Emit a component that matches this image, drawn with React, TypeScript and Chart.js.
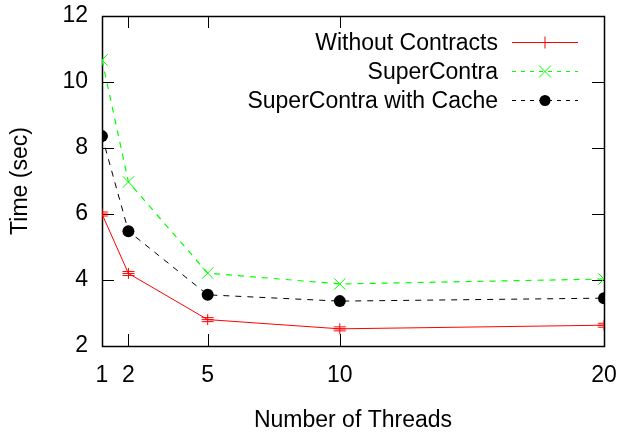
import { useEffect, useRef } from 'react';
import { Chart, registerables } from 'chart.js';

Chart.register(...registerables);

const threads = [1, 2, 5, 10, 20];
const xTickValues = [1, 2, 5, 10, 20];
const yTickValues = [2, 4, 6, 8, 10, 12];
const withoutContracts = [6.0, 4.2, 2.8, 2.52, 2.63];
const superContra = [10.67, 6.97, 4.21, 3.88, 4.03];
const superContraCache = [8.36, 5.48, 3.55, 3.36, 3.45];
const seriesLabels = ['Without Contracts', 'SuperContra', 'SuperContra with Cache'];
const xTitle = 'Number of Threads';
const yTitle = 'Time (sec)';

const FONT = "'Liberation Sans', Arial, Helvetica, sans-serif";
const FS = 23;

function makeRedMarker(): HTMLCanvasElement {
  const c = document.createElement('canvas');
  c.width = 15;
  c.height = 15;
  const g = c.getContext('2d')!;
  g.strokeStyle = '#ff0000';
  g.lineWidth = 1;
  g.beginPath();
  for (const dy of [-2, 0, 2]) {
    g.moveTo(1.5, 7.5 + dy);
    g.lineTo(13.5, 7.5 + dy);
  }
  g.moveTo(7.5, 2);
  g.lineTo(7.5, 13);
  g.stroke();
  return c;
}

export default function App() {
  const ref = useRef<HTMLCanvasElement | null>(null);

  useEffect(() => {
    if (!ref.current) return;
    const redMarker = makeRedMarker();

    const framePlugin = {
      id: 'frame',
      beforeDatasetsDraw(chart: any) {
        const { ctx, chartArea } = chart;
        const { left, right, top, bottom } = chartArea;
        const xs = chart.scales.x;
        const ys = chart.scales.y;
        const tl = 12;
        ctx.save();
        ctx.strokeStyle = '#000';
        ctx.lineWidth = 1;
        ctx.beginPath();
        for (const v of xTickValues) {
          const px = Math.round(xs.getPixelForValue(v)) + 0.5;
          ctx.moveTo(px, bottom);
          ctx.lineTo(px, bottom - tl);
          ctx.moveTo(px, top);
          ctx.lineTo(px, top + tl);
        }
        for (const v of yTickValues) {
          const py = Math.round(ys.getPixelForValue(v)) + 0.5;
          ctx.moveTo(left, py);
          ctx.lineTo(left + tl, py);
          ctx.moveTo(right, py);
          ctx.lineTo(right - tl, py);
        }
        ctx.stroke();
        ctx.lineWidth = 1.5;
        ctx.strokeRect(Math.round(left) + 0.5, Math.round(top) + 0.5, Math.round(right - left), Math.round(bottom - top));
        ctx.restore();
      },
    };

    const legendPlugin = {
      id: 'gpLegend',
      afterDraw(chart: any) {
        const { ctx } = chart;
        const rows = [42.5, 71.5, 100.5];
        const textRight = 498;
        const lineL = 512;
        const lineR = 578;
        const mid = (lineL + lineR) / 2;
        ctx.save();
        ctx.font = `${FS}px ${FONT}`;
        ctx.textAlign = 'right';
        ctx.textBaseline = 'middle';
        chart.data.datasets.forEach((ds: any, i: number) => {
          const y = rows[i];
          ctx.fillStyle = '#000';
          ctx.fillText(ds.label, textRight, y + 1);
          ctx.strokeStyle = ds.borderColor;
          ctx.lineWidth = 1;
          ctx.setLineDash(ds.borderDash ? [4, 5] : []);
          ctx.beginPath();
          ctx.moveTo(lineL, y);
          ctx.lineTo(lineR, y);
          ctx.stroke();
          ctx.setLineDash([]);
          if (i === 0) {
            ctx.beginPath();
            ctx.moveTo(mid, y - 6);
            ctx.lineTo(mid, y + 6);
            ctx.stroke();
          } else if (i === 1) {
            ctx.beginPath();
            ctx.moveTo(mid - 6, y - 6);
            ctx.lineTo(mid + 6, y + 6);
            ctx.moveTo(mid - 6, y + 6);
            ctx.lineTo(mid + 6, y - 6);
            ctx.stroke();
          } else {
            ctx.fillStyle = '#000';
            ctx.beginPath();
            ctx.arc(mid, y, 5.5, 0, Math.PI * 2);
            ctx.fill();
          }
        });
        ctx.restore();
      },
    };

    const toXY = (vals: number[]) => threads.map((t, i) => ({ x: t, y: vals[i] }));

    const chart = new Chart(ref.current, {
      type: 'line',
      data: {
        datasets: [
          {
            label: seriesLabels[0],
            data: toXY(withoutContracts),
            borderColor: '#ff0000',
            backgroundColor: '#ff0000',
            borderWidth: 1,
            pointStyle: redMarker as any,
            pointRadius: 7,
            tension: 0,
          },
          {
            label: seriesLabels[1],
            data: toXY(superContra),
            borderColor: '#00ff00',
            backgroundColor: '#00ff00',
            borderWidth: 1.2,
            borderDash: [6, 6],
            pointStyle: 'crossRot',
            pointRadius: 8,
            pointBorderWidth: 1,
            tension: 0,
          },
          {
            label: seriesLabels[2],
            data: toXY(superContraCache),
            borderColor: '#000000',
            backgroundColor: '#000000',
            borderWidth: 1,
            borderDash: [6, 6],
            pointStyle: 'circle',
            pointRadius: 6,
            pointBorderWidth: 0,
            tension: 0,
          },
        ],
      },
      options: {
        responsive: false,
        animation: false,
        events: [],
        layout: { padding: { top: 16, right: 18, left: 0, bottom: 0 } },
        plugins: {
          legend: { display: false },
          tooltip: { enabled: false },
        },
        scales: {
          x: {
            type: 'linear',
            min: 1,
            max: 20,
            grid: { display: false, drawTicks: false },
            border: { display: false },
            afterBuildTicks: (scale: any) => {
              scale.ticks = xTickValues.map((v) => ({ value: v }));
            },
            afterFit: (scale: any) => {
              scale.height = 89;
              scale.paddingLeft = 0;
              scale.paddingRight = 0;
            },
            ticks: {
              color: '#000',
              padding: 16,
              maxRotation: 0,
              autoSkip: false,
              font: { family: FONT, size: FS },
              callback: (v: any) => String(v),
            },
            title: {
              display: true,
              text: xTitle,
              color: '#000',
              font: { family: FONT, size: FS },
              padding: { top: 0, bottom: 1 },
            },
          },
          y: {
            type: 'linear',
            min: 2,
            max: 12,
            grid: { display: false, drawTicks: false },
            border: { display: false },
            afterBuildTicks: (scale: any) => {
              scale.ticks = yTickValues.map((v) => ({ value: v }));
            },
            afterFit: (scale: any) => {
              scale.width = 102;
              scale.paddingTop = 0;
              scale.paddingBottom = 0;
            },
            ticks: {
              color: '#000',
              padding: 14,
              autoSkip: false,
              font: { family: FONT, size: FS },
              callback: (v: any) => String(v),
            },
            title: {
              display: true,
              text: yTitle,
              color: '#000',
              font: { family: FONT, size: FS },
              padding: { top: 7, bottom: 0 },
            },
          },
        },
      },
      plugins: [framePlugin, legendPlugin],
    });

    return () => chart.destroy();
  }, []);

  return (
    <div style={{ position: 'fixed', left: 0, top: 0, width: 622, height: 435, background: '#fff' }}>
      <canvas ref={ref} width={622} height={435} style={{ display: 'block' }} />
    </div>
  );
}
